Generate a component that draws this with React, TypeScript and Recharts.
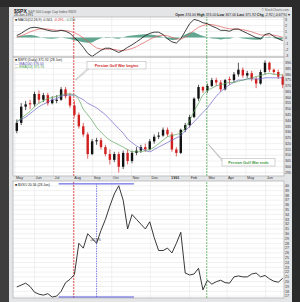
import React from 'react'
import {
  ComposedChart, Line, Area, Bar, XAxis, YAxis, CartesianGrid, ReferenceLine,
} from 'recharts'

// weekly samples (Fridays), May 1990 - Jun 1991
const weeks = [
  '1990-05-04', '1990-05-11', '1990-05-18', '1990-05-25', '1990-06-01', '1990-06-08', '1990-06-15', '1990-06-22', '1990-06-29',
  '1990-07-06', '1990-07-13', '1990-07-20', '1990-07-27', '1990-08-03', '1990-08-10', '1990-08-17', '1990-08-24', '1990-08-31',
  '1990-09-07', '1990-09-14', '1990-09-21', '1990-09-28', '1990-10-05', '1990-10-12', '1990-10-19', '1990-10-26',
  '1990-11-02', '1990-11-09', '1990-11-16', '1990-11-23', '1990-11-30', '1990-12-07', '1990-12-14', '1990-12-21', '1990-12-28',
  '1991-01-04', '1991-01-11', '1991-01-18', '1991-01-25', '1991-02-01', '1991-02-08', '1991-02-15', '1991-02-22',
  '1991-03-01', '1991-03-08', '1991-03-15', '1991-03-22', '1991-03-29', '1991-04-05', '1991-04-12', '1991-04-19', '1991-04-26',
  '1991-05-03', '1991-05-10', '1991-05-17', '1991-05-24', '1991-05-31', '1991-06-07', '1991-06-14', '1991-06-21', '1991-06-28',
]

const opens = [331, 338, 352, 355, 354, 363, 358, 362, 355, 357, 358, 367, 361, 353, 345, 335, 328, 311, 322, 323,
  317, 311, 306, 311, 300, 312, 305, 312, 314, 317, 315, 322, 326, 327, 332, 328, 315, 312, 332, 336,
  343, 359, 369, 366, 370, 375, 373, 367, 376, 375, 380, 384, 379, 381, 376, 372, 382, 390, 384, 382, 378]
const highs = [341, 355, 357, 358, 365, 366, 364, 364, 361, 362, 369, 369, 364, 357, 347, 338, 330, 324, 325, 325,
  319, 315, 313, 313, 314, 315, 314, 317, 319, 320, 324, 328, 330, 334, 334, 330, 317, 333, 338, 345,
  360, 371, 370, 372, 377, 377, 375, 376, 378, 382, 390, 386, 383, 383, 378, 384, 392, 391, 385, 384, 380]
const lows = [329, 336, 349, 350, 352, 355, 356, 353, 354, 355, 357, 359, 351, 343, 333, 326, 307, 310, 319, 315,
  309, 302, 304, 295, 298, 302, 303, 310, 312, 313, 314, 320, 324, 326, 326, 313, 309, 311, 330, 334,
  342, 357, 364, 364, 369, 370, 365, 366, 371, 373, 378, 377, 377, 374, 368, 371, 380, 382, 380, 376, 368]
const closes = [338, 352, 354, 354, 363, 358, 362, 355, 358, 358, 367, 361, 353, 345, 335, 328, 311, 322, 323, 317,
  311, 306, 311, 300, 312, 305, 312, 314, 317, 315, 322, 326, 327, 332, 328, 315, 312, 332, 336, 343,
  359, 369, 366, 370, 375, 373, 367, 375, 375, 380, 384, 379, 381, 376, 372, 382, 390, 384, 382, 378, 371]
const ma50 = [339, 342, 345, 348, 352, 355, 357, 359, 360, 361, 362, 363, 363, 362, 358, 350, 345, 340, 334, 330,
  326, 323, 321, 319, 317, 315, 313, 313, 313, 314, 315, 317, 320, 323, 326, 327, 328, 329, 334, 340,
  348, 355, 362, 366, 368, 370, 371, 372, 373, 373, 374, 375, 376, 377, 378, 379, 380, 381, 380, 380, 379]
const ma200 = [339, 341, 343, 346, 349, 352, 354, 356, 358, 359, 361, 362, 362, 362, 360, 358, 355, 353, 351, 348,
  345, 341, 337, 333, 329, 324, 321, 318, 316, 314, 313, 315, 317, 319, 321, 323, 325, 327, 331, 335,
  339, 343, 347, 351, 356, 361, 365, 368, 371, 373, 375, 375, 376, 376, 376, 376, 377, 377, 377, 377, 377]

const macdLine = [0.35, 0.7, 1.2, 1.6, 1.7, 1.6, 1.4, 1.2, 1.05, 1.05, 1.2, 1.05, 0.7, 0, -0.7, -1.6, -2.6, -3.1, -2.6, -2.1,
  -1.75, -1.75, -2.1, -2.45, -2.1, -1.6, -1.2, -0.7, -0.2, 0.35, 0.7, 0.9, 0.9, 0.5, -0.2, -0.7, -0.9, -0.2, 1.05, 2.3,
  3.0, 2.8, 2.45, 2.3, 1.9, 1.6, 1.2, 1.2, 1.05, 1.4, 1.4, 1.05, 0.7, 0.35, 0, -0.2, 0.5, 0.7, 0.2, -0.2, -0.5]
const macdSignal = [0.1, 0.3, 0.6, 0.95, 1.2, 1.4, 1.45, 1.4, 1.3, 1.2, 1.2, 1.15, 1.05, 0.8, 0.45, -0.05, -0.6, -1.2, -1.7, -1.9,
  -1.9, -1.9, -1.95, -2.1, -2.15, -2.0, -1.8, -1.5, -1.1, -0.7, -0.3, 0.05, 0.3, 0.4, 0.3, 0.05, -0.2, -0.25, 0.1, 0.6,
  1.2, 1.7, 2.0, 2.15, 2.15, 2.0, 1.8, 1.6, 1.45, 1.4, 1.4, 1.3, 1.15, 0.95, 0.7, 0.45, 0.4, 0.45, 0.4, 0.25, 0.05]
const macdHist = [0.2, 0.3, 0.4, 0.45, 0.35, 0.15, -0.05, -0.15, -0.2, -0.1, 0, -0.1, -0.25, -0.45, -0.6, -0.75, -0.85, -0.8, -0.4, -0.1,
  0.1, 0.1, -0.1, -0.2, 0.05, 0.25, 0.35, 0.45, 0.5, 0.55, 0.5, 0.45, 0.3, 0.05, -0.25, -0.4, -0.35, 0.05, 0.5, 0.85,
  0.9, 0.55, 0.25, 0.1, -0.15, -0.2, -0.3, -0.2, -0.2, 0, 0, -0.15, -0.25, -0.3, -0.35, -0.3, 0.05, 0.15, -0.1, -0.25, -0.3]

const vix = [18.9, 19.3, 19.7, 19.0, 17.8, 17.4, 17.2, 17.5, 16.8, 17.0, 18.0, 19.8, 20.5, 21.5, 28, 27, 30, 29, 28, 30.7,
  33, 35.8, 38.3, 40, 37, 31, 34, 33, 32, 31, 32.5, 29.2, 26.5, 26.5, 27, 26, 28, 30.3, 21.8, 21.4,
  21.6, 22.8, 18.3, 20.3, 19.5, 20.0, 20.3, 19.8, 19.7, 21, 21.2, 21, 21, 21.6, 21.8, 21, 21.3, 20.6, 20.1, 19.9, 20.7]

const monthDays = [0, 31, 61, 92, 123, 153, 184, 214, 245, 276, 304, 335, 365, 396]
const monthLabels = ['May', 'Jun', 'Jul', 'Aug', 'Sep', 'Oct', 'Nov', 'Dec', '1991', 'Feb', 'Mar', 'Apr', 'May', 'Jun']
const priceTicks = [295, 300, 305, 310, 315, 320, 325, 330, 335, 340, 345, 350, 355, 360, 365, 370, 375, 380, 385, 390]
const macdTicks = [-3, -2, -1, 0, 1, 2, 3]
const vixTicks = [17, 18, 19, 20, 21, 22, 23, 24, 25, 26, 27, 28, 29, 30, 31, 32, 33, 34, 35, 36, 37, 38, 39, 40]

const WAR_START = 93 // 2-Aug-1990
const WAR_END = 303 // 28-Feb-1991
const VIX_LOW = 16.8
const VIX_HIGH = 40.4

const START = Date.UTC(1990, 4, 1)
const data = weeks.map((w, i) => ({
  day: Math.round((Date.parse(w) - START) / 86400000),
  open: opens[i], high: highs[i], low: lows[i], close: closes[i],
  ma50: ma50[i], ma200: ma200[i],
  macd: macdLine[i], signal: macdSignal[i], hist: macdHist[i],
  vix: vix[i],
}))

const W = 279
const X_DOMAIN = [-3, 425]
const FONT = 'Liberation Sans, Arial, sans-serif'
const axisTick = { fontSize: 3.6, fill: '#333', fontFamily: FONT }

function Candle(props: any) {
  const { x, y, width, height, payload } = props
  const top = Math.min(y, y + height)
  const h = Math.abs(height)
  const span = payload.high - payload.low || 1
  const toY = (v: number) => top + ((payload.high - v) / span) * h
  const down = payload.close < payload.open
  const color = down ? '#d11f1f' : '#111'
  const cx = x + width / 2
  const bTop = toY(Math.max(payload.open, payload.close))
  const bBot = toY(Math.min(payload.open, payload.close))
  return (
    <g>
      <line x1={cx} x2={cx} y1={top} y2={top + h} stroke={color} strokeWidth={0.7} />
      <rect x={x} y={bTop} width={width} height={Math.max(bBot - bTop, 0.7)} fill={color} />
    </g>
  )
}

function MonthTick({ x, y, payload }: any) {
  const i = monthDays.indexOf(payload.value)
  return (
    <text x={x + 1} y={y + 3.3} fontSize={3.8} fill="#333" fontFamily={FONT} fontWeight={i === 8 ? 700 : 400}>
      {monthLabels[i]}
    </text>
  )
}

function warLines() {
  return [
    <ReferenceLine key="ws" x={WAR_START} stroke="#e02424" strokeWidth={0.8} strokeDasharray="2 1" />,
    <ReferenceLine key="we" x={WAR_END} stroke="#4caf50" strokeWidth={0.8} strokeDasharray="2 1" />,
  ]
}

function rightAxis(domain: number[], ticks: number[]) {
  return (
    <YAxis orientation="right" width={8} domain={domain} ticks={ticks} interval={0} tick={axisTick}
      tickLine={false} axisLine={false} tickSize={0} tickMargin={1} />
  )
}

const xAxisHidden = <XAxis type="number" dataKey="day" domain={X_DOMAIN} ticks={monthDays} hide />

export default function App() {
  return (
    <div style={{ position: 'fixed', left: 0, top: 0, width: 300, height: 302, background: '#2b2b2b', overflow: 'hidden' }}>
      <div style={{ position: 'absolute', left: 0, top: 7, width: 9, height: 295, background: '#3e3e3e' }} />
      <div style={{ position: 'absolute', left: 9, top: 7, width: 283, height: 295, background: '#e4e5e7' }} />

      <div style={{ position: 'absolute', left: 13, top: 17 }}>
        <ComposedChart width={W} height={40} data={data} margin={{ top: 0, right: 0, bottom: 0, left: 0 }}>
          <CartesianGrid stroke="#e3e3e3" strokeWidth={0.5} fill="#fff" />
          {xAxisHidden}
          {rightAxis([-3.2, 3.4], macdTicks)}
          <Area dataKey="hist" type="linear" baseValue={0} fill="#4f9c84" fillOpacity={0.9} stroke="none" isAnimationActive={false} />
          {warLines()}
          <Line dataKey="signal" type="linear" stroke="#e05a5a" strokeWidth={0.7} dot={false} isAnimationActive={false} />
          <Line dataKey="macd" type="linear" stroke="#111" strokeWidth={0.8} dot={false} isAnimationActive={false} />
        </ComposedChart>
      </div>

      <div style={{ position: 'absolute', left: 13, top: 57 }}>
        <ComposedChart width={W} height={124} data={data} margin={{ top: 0, right: 0, bottom: 0, left: 0 }}>
          <CartesianGrid stroke="#e3e3e3" strokeWidth={0.5} fill="#fff" />
          <XAxis type="number" dataKey="day" domain={X_DOMAIN} ticks={monthDays} interval={0} height={5}
            tick={<MonthTick />} tickLine={false} axisLine={false} tickSize={0} tickMargin={0} />
          {rightAxis([292, 395], priceTicks)}
          {warLines()}
          <Line dataKey="ma200" type="monotone" stroke="#6b63c9" strokeWidth={0.7} dot={false} isAnimationActive={false} />
          <Line dataKey="ma50" type="monotone" stroke="#5aa55a" strokeWidth={0.7} dot={false} isAnimationActive={false} />
          <Bar dataKey={(d: any) => [d.low, d.high]} barSize={2.4} shape={<Candle />} isAnimationActive={false} />
        </ComposedChart>
      </div>

      <div style={{ position: 'absolute', left: 13, top: 181 }}>
        <ComposedChart width={W} height={117} data={data} margin={{ top: 0, right: 0, bottom: 0, left: 0 }}>
          <CartesianGrid stroke="#e3e3e3" strokeWidth={0.5} fill="#fff" />
          {xAxisHidden}
          {rightAxis([16.6, 41], vixTicks)}
          {warLines()}
          <ReferenceLine segment={[{ x: 69, y: VIX_HIGH }, { x: 188, y: VIX_HIGH }]} stroke="#4a4ae0" strokeWidth={1} />
          <ReferenceLine segment={[{ x: 69, y: VIX_LOW }, { x: 188, y: VIX_LOW }]} stroke="#4a4ae0" strokeWidth={1} />
          <ReferenceLine segment={[{ x: 129, y: VIX_LOW }, { x: 129, y: VIX_HIGH }]} stroke="#4a4ae0" strokeWidth={0.7} strokeDasharray="1.5 1" />
          <Line dataKey="vix" type="linear" stroke="#222" strokeWidth={0.9} dot={false} isAnimationActive={false} />
        </ComposedChart>
      </div>

      <svg width={300} height={302} style={{ position: 'absolute', left: 0, top: 0, pointerEvents: 'none' }} fontFamily={FONT}>
        <rect x={13} y={17} width={271} height={40} fill="none" stroke="#9a9a9a" strokeWidth={0.5} />
        <rect x={13} y={57} width={271} height={119} fill="none" stroke="#9a9a9a" strokeWidth={0.5} />
        <rect x={13} y={181} width={271} height={117} fill="none" stroke="#9a9a9a" strokeWidth={0.5} />

        <text x={14} y={13} fontSize={5} fontWeight={700} fill="#222">$SPX</text>
        <text x={28} y={12.5} fontSize={3.4} fill="#555">S&amp;P 500 Large Cap Index  INDX</text>
        <text x={14} y={16.3} fontSize={3.4} fill="#333">28-Jun-1991</text>
        <text x={289} y={11} fontSize={3.2} fill="#666" textAnchor="end">© StockCharts.com</text>
        <text x={290} y={15.8} fontSize={3.5} fill="#222" textAnchor="end">
          <tspan fontWeight={700}>Open</tspan> 374.00 <tspan fontWeight={700}>High</tspan> 374.00 <tspan fontWeight={700}>Low</tspan> 367.00 <tspan fontWeight={700}>Last</tspan> 371.92 <tspan fontWeight={700}>Chg</tspan> -2.92 (-0.67%) ▾
        </text>

        <text x={15} y={21} fontSize={3.4} fill="#222">■ MACD(12,26,9) -0.501, <tspan fill="#d33">-0.291</tspan>, <tspan fill="#3a8a6a">-0.210</tspan></text>
        <text x={15} y={61} fontSize={3.4} fill="#222">■ $SPX (Daily) 371.92 (28 Jun)</text>
        <text x={15} y={64.5} fontSize={3.4} fill="#5a52c0">— MA(200) 376.04</text>
        <text x={15} y={68} fontSize={3.4} fill="#3f9a3f">— EMA(50) 375.76</text>
        <text x={15} y={186} fontSize={3.4} fill="#222">■ $VXO 20.56 (28 Jun)</text>

        <line x1={88} y1={68} x2={75} y2={80} stroke="#999" strokeWidth={0.5} />
        <line x1={89} y1={69} x2={76} y2={80} stroke="#999" strokeWidth={0.5} />
        <rect x={87} y={61.5} width={59} height={7.5} fill="#fff" stroke="#aaa" strokeWidth={0.5} />
        <text x={116.5} y={66.7} fontSize={3.8} fontWeight={700} fill="#d11f1f" textAnchor="middle">Persian Gulf War begins</text>

        <line x1={223} y1={160} x2={208} y2={144} stroke="#999" strokeWidth={0.5} />
        <line x1={223} y1={162} x2={209} y2={145} stroke="#999" strokeWidth={0.5} />
        <rect x={222} y={158.5} width={53} height={7.5} fill="#fff" stroke="#aaa" strokeWidth={0.5} />
        <text x={248.5} y={163.7} fontSize={3.8} fontWeight={700} fill="#3f9a3f" textAnchor="middle">Persian Gulf War ends</text>

        <text x={90} y={241} fontSize={3.2} fill="#333">+82.9%</text>
      </svg>
    </div>
  )
}
